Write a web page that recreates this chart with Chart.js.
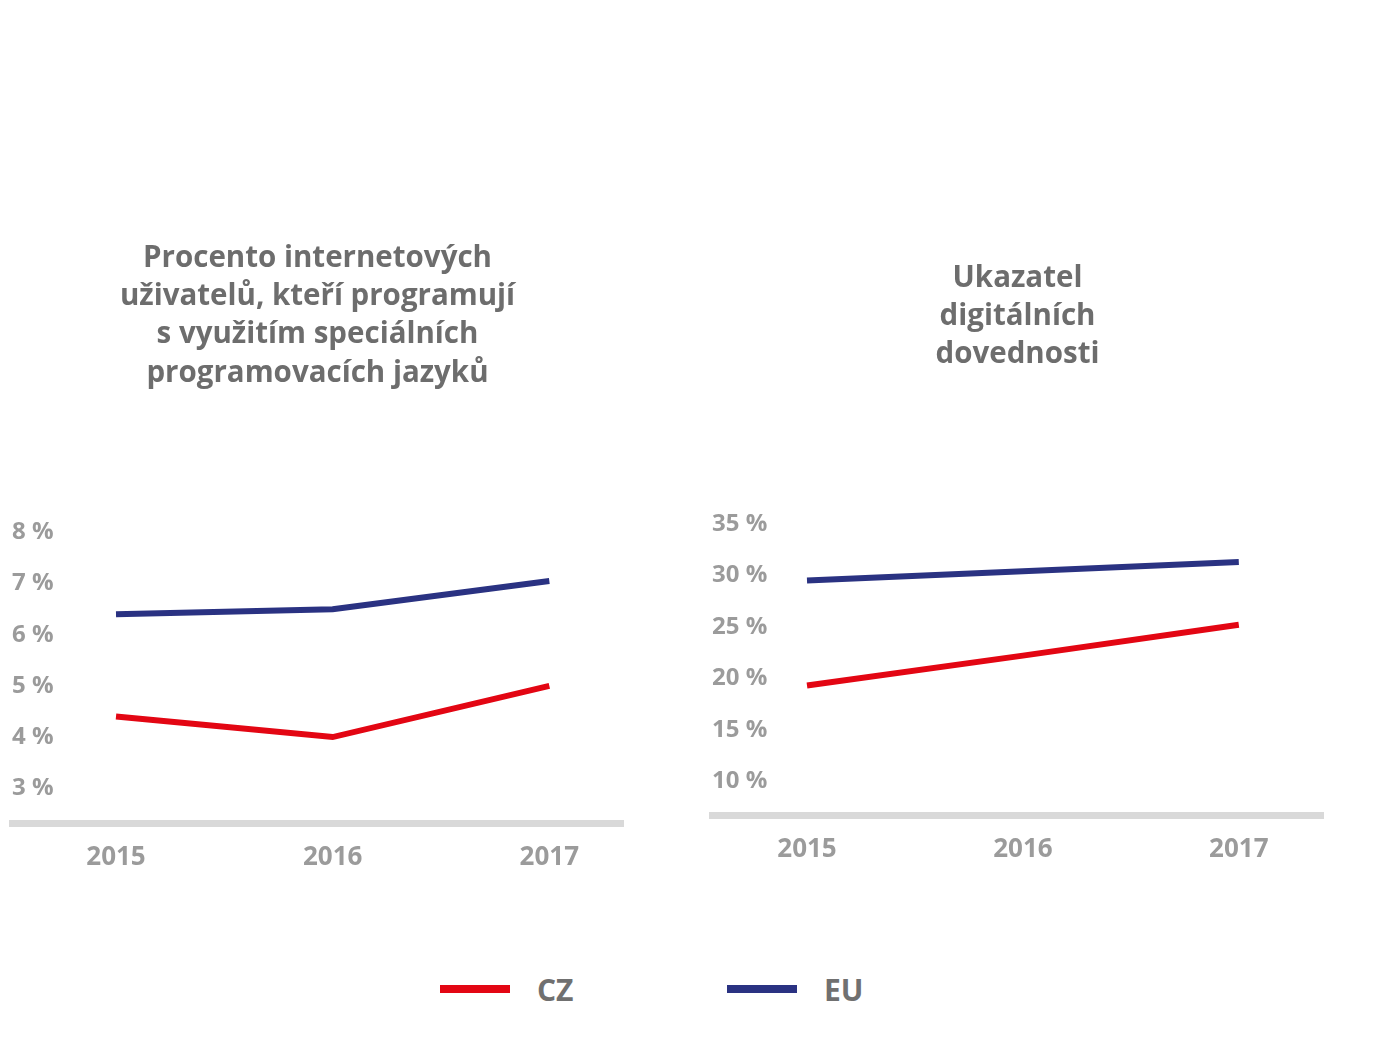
<!DOCTYPE html>
<html lang="cs">
<head>
<meta charset="utf-8">
<script src="https://cdn.jsdelivr.net/npm/chart.js@4/dist/chart.umd.min.js"></script>
<style>
  body { margin: 0; background: #fff; width: 1384px; height: 1039px; position: relative; overflow: hidden; font-family: "Open Sans", sans-serif; }
  .box { position: absolute; top: 220px; width: 640px; height: 680px; }
  .item { position: absolute; top: 966px; display: flex; align-items: center; height: 46px; }
  .swatch { width: 70px; height: 8px; margin-right: 27px; }
  .lbl { font-weight: 700; font-size: 30px; color: #707070; }
</style>
</head>
<body>
<div class="box" style="left:0"><canvas id="chart1"></canvas></div>
<div class="box" style="left:700px"><canvas id="chart2"></canvas></div>
<script>
// data
const roky = [2015, 2016, 2017]
const serie = ['CZ', 'EU']
const barvy = ['#e30613', '#2a3282']

const programCZ = [4.4, 4.0, 5.0]
const programEU = [6.4, 6.5, 7.05]
const tickyProgram = [3, 4, 5, 6, 7, 8]

const dovednostiCZ = [19.3, 22.2, 25.2]
const dovednostiEU = [29.5, 30.4, 31.3]
const tickyDovednosti = [10, 15, 20, 25, 30, 35]

const titulek1 = ['Procento internetových', 'uživatelů, kteří programují', 's využitím speciálních', 'programovacích jazyků']
const titulek2 = ['Ukazatel', 'digitálních', 'dovednosti']

const sedaTick = '#9b9b9b'

const body = (hodnoty) => hodnoty.map((v, i) => ({ x: roky[i], y: v }))

const udelejGraf = (id, titulek, cz, eu, ticky, cfg) => {
    const ctx = document.getElementById(id).getContext('2d')
    return new Chart(ctx, {
        type: 'line',
        data: {
            datasets: [
                { label: serie[0], data: body(cz), borderColor: barvy[0], backgroundColor: barvy[0] },
                { label: serie[1], data: body(eu), borderColor: barvy[1], backgroundColor: barvy[1] }
            ]
        },
        options: {
            responsive: true,
            maintainAspectRatio: false,
            animation: false,
            layout: { padding: { left: cfg.padLeft, right: 17, top: 0, bottom: 0 } },
            elements: {
                line: { borderWidth: 6, tension: 0, borderCapStyle: 'butt' },
                point: { radius: 0, hoverRadius: 0 }
            },
            plugins: {
                legend: { display: false },
                tooltip: { enabled: false },
                title: {
                    display: true,
                    text: titulek,
                    color: '#6d6d6d',
                    font: { family: 'Open Sans', weight: 'bold', size: 29.5, lineHeight: 1.3 },
                    padding: { top: cfg.titleTop, bottom: cfg.titleBottom }
                }
            },
            scales: {
                x: {
                    type: 'linear',
                    min: cfg.xMin,
                    max: cfg.xMax,
                    afterBuildTicks: (s) => { s.ticks = roky.map(r => ({ value: r })) },
                    afterFit: (s) => { s.height = cfg.xHeight },
                    grid: { display: false, drawTicks: false },
                    border: { display: true, color: '#d9d9d9', width: 7 },
                    ticks: {
                        color: sedaTick,
                        padding: 19,
                        font: { family: 'Open Sans', weight: 'bold', size: 26 },
                        callback: (v) => String(v)
                    }
                },
                y: {
                    min: cfg.yMin,
                    max: cfg.yMax,
                    afterBuildTicks: (s) => { s.ticks = ticky.map(t => ({ value: t })) },
                    grid: { display: false, drawTicks: false },
                    border: { display: false },
                    ticks: {
                        mirror: true,
                        padding: 0,
                        color: sedaTick,
                        font: { family: 'Open Sans', weight: 'bold', size: 24 },
                        callback: (v) => v + ' %'
                    }
                }
            }
        }
    })
}

udelejGraf('chart1', titulek1, programCZ, programEU, tickyProgram, {
    padLeft: 12, titleTop: 19, titleBottom: 140, xHeight: 77,
    xMin: 2014.52, xMax: 2017.34, yMin: 2.32, yMax: 8
})

udelejGraf('chart2', titulek2, dovednostiCZ, dovednostiEU, tickyDovednosti, {
    padLeft: 12, titleTop: 39, titleBottom: 150, xHeight: 85,
    xMin: 2014.56, xMax: 2017.39, yMin: 6.7, yMax: 35
})

// legenda
const legendaX = [440, 727]
serie.forEach((s, i) => {
    const el = document.createElement('div')
    el.className = 'item'
    el.style.left = legendaX[i] + 'px'
    el.innerHTML = '<div class="swatch" style="background:' + barvy[i] + '"></div><div class="lbl">' + s + '</div>'
    document.body.appendChild(el)
})
</script>
</body>
</html>
